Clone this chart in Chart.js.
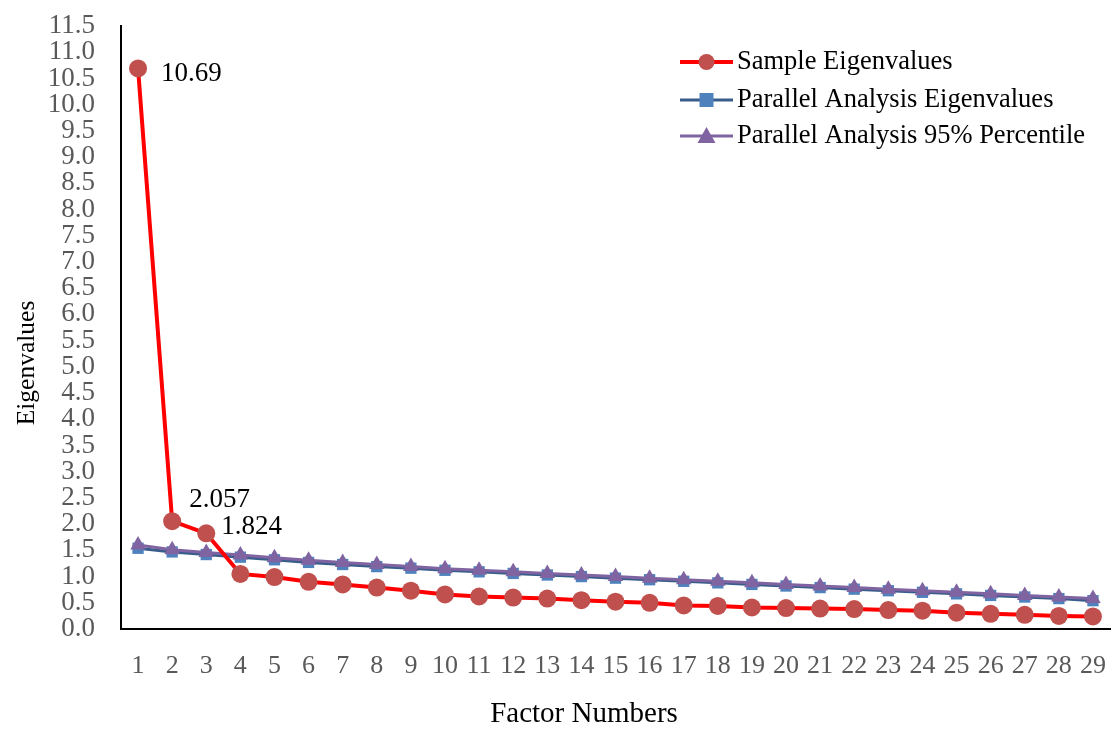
<!DOCTYPE html>
<html><head><meta charset="utf-8">
<script src="https://cdn.jsdelivr.net/npm/chart.js@4.4.1/dist/chart.umd.min.js"></script>
<style>html,body{margin:0;padding:0;background:#fff}#wrap{width:1112px;height:729px;position:relative}</style>
</head><body><div id="wrap"><canvas id="c" width="1112" height="729"></canvas></div>
<script>
const factors = ['1','2','3','4','5','6','7','8','9','10','11','12','13','14','15','16','17','18','19','20','21','22','23','24','25','26','27','28','29'];
const sampleEigen = [10.69,2.057,1.824,1.05,0.99,0.90,0.85,0.79,0.73,0.66,0.62,0.60,0.58,0.55,0.52,0.50,0.45,0.44,0.41,0.40,0.39,0.38,0.36,0.35,0.31,0.29,0.27,0.25,0.24];
const parallelEigen = [1.54,1.47,1.42,1.37,1.32,1.27,1.23,1.19,1.16,1.12,1.09,1.06,1.03,1.00,0.97,0.94,0.91,0.88,0.85,0.82,0.79,0.76,0.73,0.70,0.67,0.64,0.61,0.58,0.54];
const parallel95 = [1.60,1.51,1.46,1.41,1.36,1.31,1.27,1.23,1.19,1.15,1.12,1.09,1.06,1.03,1.00,0.97,0.94,0.91,0.88,0.85,0.82,0.79,0.76,0.73,0.70,0.67,0.64,0.61,0.58];
const seriesNames = ['Sample Eigenvalues','Parallel Analysis Eigenvalues','Parallel Analysis 95% Percentile'];
const xTitle = 'Factor Numbers';
const yTitle = 'Eigenvalues';
const labelledPoints = [{i:0,text:'10.69',dx:23,dy:5},{i:1,text:'2.057',dx:17,dy:-21},{i:2,text:'1.824',dx:15,dy:-6}];
const FONT = '"Liberation Serif","Times New Roman",serif';

const dataLabels = {
  id:'dataLabels',
  afterDatasetsDraw(chart){
    const ctx = chart.ctx, meta = chart.getDatasetMeta(0);
    ctx.save();
    ctx.font = '27px ' + FONT;
    ctx.fillStyle = '#000';
    ctx.textBaseline = 'middle';
    ctx.textAlign = 'left';
    labelledPoints.forEach(p=>{
      const el = meta.data[p.i];
      ctx.fillText(p.text, el.x + p.dx, el.y + p.dy);
    });
    ctx.restore();
  }
};
const axisTitles = {
  id:'axisTitles',
  afterDraw(chart){
    const ctx = chart.ctx;
    ctx.save();
    ctx.fillStyle = '#000';
    ctx.textAlign = 'center';
    ctx.textBaseline = 'middle';
    ctx.font = '29px ' + FONT;
    ctx.fillText(xTitle, 584, 714);
    ctx.translate(27, 363);
    ctx.rotate(-Math.PI/2);
    ctx.font = '25.5px ' + FONT;
    ctx.fillText(yTitle, 0, 0);
    ctx.restore();
  }
};
const customLegend = {
  id:'customLegend',
  afterDraw(chart){
    const ctx = chart.ctx;
    const x0 = 680, x1 = 733, ys = [62,100,136];
    ctx.save();
    chart.data.datasets.forEach((ds,k)=>{
      const y = ys[k];
      ctx.strokeStyle = ds.borderColor; ctx.lineWidth = ds.borderWidth;
      ctx.beginPath(); ctx.moveTo(x0,y); ctx.lineTo(x1,y); ctx.stroke();
      const cx = (x0+x1)/2;
      ctx.fillStyle = ds.pointBackgroundColor;
      ctx.beginPath();
      if (ds.pointStyle === 'circle') { ctx.arc(cx,y,8,0,Math.PI*2); }
      else if (ds.pointStyle === 'rect') { ctx.rect(cx-7,y-7,14,14); }
      else { ctx.moveTo(cx,y-9); ctx.lineTo(cx+9,y+7); ctx.lineTo(cx-9,y+7); ctx.closePath(); }
      ctx.fill();
      ctx.fillStyle = '#000';
      ctx.font = '26.5px ' + FONT;
      ctx.textBaseline = 'middle';
      ctx.fillText(ds.label, x1+4, y);
    });
    ctx.restore();
  }
};

new Chart(document.getElementById('c'), {
  type:'line',
  data:{
    labels: factors,
    datasets:[
      {label:seriesNames[0], data:sampleEigen, borderColor:'#FF0000', borderWidth:4, pointStyle:'circle', pointRadius:9, pointBackgroundColor:'#C0504D', pointBorderColor:'#C0504D', pointBorderWidth:0, order:0, tension:0},
      {label:seriesNames[1], data:parallelEigen, borderColor:'#385D8A', borderWidth:3, pointStyle:'rect', pointRadius:8, pointBackgroundColor:'#4F81BD', pointBorderColor:'#4F81BD', pointBorderWidth:0, order:2, tension:0},
      {label:seriesNames[2], data:parallel95, borderColor:'#8064A2', borderWidth:3, pointStyle:'triangle', pointRadius:9, pointBackgroundColor:'#8064A2', pointBorderColor:'#8064A2', pointBorderWidth:0, order:1, tension:0}
    ]
  },
  options:{
    responsive:false, animation:false,
    layout:{autoPadding:false, padding:{top:26,right:2,left:0,bottom:0}},
    plugins:{legend:{display:false}, tooltip:{enabled:false}},
    scales:{
      x:{
        offset:true,
        afterFit:s=>{s.height=100; s.paddingLeft=0; s.paddingRight=0;},
        grid:{display:false, drawTicks:false},
        border:{display:true,color:'#000',width:2},
        ticks:{color:'#595959', font:{family:FONT,size:26}, padding:22, maxRotation:0, autoSkip:false},
        title:{display:false}
      },
      y:{
        min:0, max:11.5,
        afterFit:s=>{s.width=121; s.paddingTop=0; s.paddingBottom=0;},
        grid:{display:false, drawTicks:false},
        border:{display:true,color:'#000',width:2},
        ticks:{stepSize:0.5, autoSkip:false, color:'#595959', font:{family:FONT,size:27,lineHeight:1}, padding:26, callback:v=>Number(v).toFixed(1)},
        title:{display:false}
      }
    }
  },
  plugins:[dataLabels, axisTitles, customLegend]
});
</script></body></html>
